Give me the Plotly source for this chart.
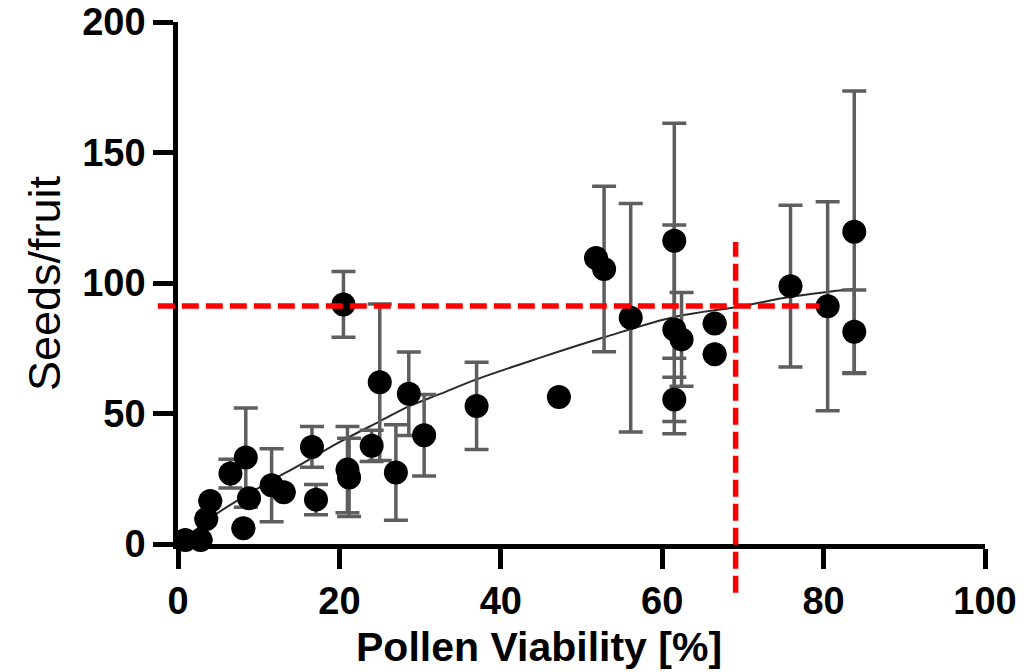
import plotly.graph_objects as go

# ---- data ----
pollen_viability = [0.9, 2.8, 3.5, 4.0, 6.5, 8.4, 8.8, 8.1, 11.6, 13.1,
                    16.6, 17.1, 20.5, 21.0, 21.2, 24.0, 25.0, 27.0, 28.6, 30.5,
                    37.0, 47.2, 51.8, 52.8, 56.1, 61.5, 61.5, 62.4, 61.5, 66.5,
                    66.5, 75.9, 80.5, 83.8, 83.8]
seeds_per_fruit = [1.5, 1.5, 9.6, 16.5, 27.0, 33.1, 17.5, 6.0, 22.5, 19.8,
                   37.2, 17.0, 91.8, 28.5, 25.5, 37.6, 62.0, 27.4, 57.6, 41.7,
                   52.9, 56.3, 109.6, 105.4, 86.7, 116.2, 82.2, 78.4, 55.4, 84.5,
                   72.7, 98.8, 91.1, 119.6, 81.3]
seeds_error = [0, 0, 0, 0, 5.5, 19.0, 0, 0, 14.0, 0,
               7.8, 5.8, 12.6, 16.5, 15.0, 6.0, 30.0, 18.3, 16.0, 15.6,
               16.7, 0, 0, 31.7, 43.8, 45.0, 40.0, 18.0, 8.5, 0,
               0, 31.0, 40.0, 54.0, 16.0]

# fitted curve
fit_x = [0.9, 4.5, 10, 15.5, 20, 25, 28.8, 32.5, 36.9, 45, 52.6, 61.5, 69.8, 75.9, 83.9]
fit_y = [2.0, 11.0, 21.5, 31.0, 39.0, 47.0, 53.0, 57.5, 63.0, 71.5, 79.0, 87.0, 91.1, 94.7, 97.8]

# threshold guide lines
threshold_seeds = 91.2
threshold_viability = 69.1
h_line_start_x = -2.5
h_line_end_x = 79.5
v_line_top_y = 115.7
v_line_bottom_y = -18.7

x_range = [0, 100]
y_range = [0, 200]
x_ticks = [0, 20, 40, 60, 80, 100]
y_ticks = [0, 50, 100, 150, 200]


def xpaper(v):
    return (v - x_range[0]) / (x_range[1] - x_range[0])


def ypaper(v):
    return (v - y_range[0]) / (y_range[1] - y_range[0])


FONT = "Liberation Sans, Arial, Helvetica, sans-serif"

fig = go.Figure()

fig.add_trace(go.Scatter(
    x=fit_x, y=fit_y, mode="lines",
    line=dict(color="#2a2a2a", width=2, shape="spline"),
    hoverinfo="skip", showlegend=False,
))

fig.add_trace(go.Scatter(
    x=pollen_viability, y=seeds_per_fruit, mode="markers",
    marker=dict(color="black", size=24, line=dict(width=0)),
    error_y=dict(type="data", array=seeds_error, visible=True,
                 color="#5e5e5e", thickness=3.5, width=12),
    cliponaxis=False, showlegend=False,
))

fig.add_shape(type="line", xref="paper", yref="y",
              x0=xpaper(h_line_start_x), x1=xpaper(h_line_end_x),
              y0=threshold_seeds, y1=threshold_seeds,
              line=dict(color="#ff0000", width=5.5, dash="17px,7px"), layer="above")
fig.add_shape(type="line", xref="x", yref="paper",
              x0=threshold_viability, x1=threshold_viability,
              y0=ypaper(v_line_bottom_y), y1=ypaper(v_line_top_y),
              line=dict(color="#ff0000", width=5.5, dash="17px,7px"), layer="above")

axis_common = dict(
    showline=True, linewidth=4.5, linecolor="black", mirror=False,
    ticks="outside", ticklen=20, tickwidth=4.5, tickcolor="black",
    showgrid=False, zeroline=False, automargin=False,
    tickfont=dict(family=FONT, size=38, color="black", weight="bold"),
)

fig.update_xaxes(range=x_range, tickvals=x_ticks, **axis_common)
fig.update_yaxes(range=y_range, tickvals=y_ticks, **axis_common)

fig.add_annotation(text="Pollen Viability [%]", xref="paper", yref="paper",
                   x=xpaper(44.7), y=-0.197, xanchor="center", yanchor="middle",
                   showarrow=False,
                   font=dict(family=FONT, size=41, color="black", weight="bold"))
fig.add_annotation(text="Seeds/fruit", xref="paper", yref="paper",
                   x=-0.166, y=0.5, xanchor="center", yanchor="middle",
                   textangle=-90, showarrow=False,
                   font=dict(family=FONT, size=45, color="black"))

fig.update_layout(
    width=1036, height=672,
    margin=dict(l=178, r=51, t=22, b=128, autoexpand=False),
    plot_bgcolor="white", paper_bgcolor="white",
    showlegend=False,
)

fig.write_html("out.html")
